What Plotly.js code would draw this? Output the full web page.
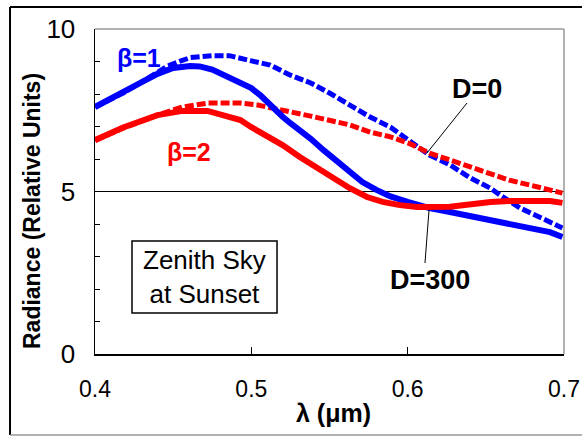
<!DOCTYPE html>
<html>
<head>
<meta charset="utf-8">
<script src="https://cdn.plot.ly/plotly-3.0.1.min.js"></script>
<style>
html,body{margin:0;padding:0;background:#fff;}
#chart{width:582px;height:437px;}
</style>
</head>
<body>
<div id="chart"></div>
<script>
// Wavelength (µm) and radiance (relative units)
const lamD0b1 = [0.400,0.418,0.429,0.446,0.455,0.461,0.475,0.486,0.500,0.512,0.525,0.538,0.550,0.563,0.576,0.589,0.601,0.614,0.627,0.640,0.653,0.659,0.672,0.685,0.699];
const radD0b1 = [7.60,8.03,8.34,8.85,9.02,9.12,9.18,9.18,9.02,8.89,8.58,8.34,8.03,7.66,7.29,6.98,6.55,6.12,5.82,5.42,5.10,4.89,4.49,4.18,3.88];

const lamD0b2 = [0.400,0.418,0.440,0.456,0.472,0.493,0.504,0.512,0.525,0.538,0.550,0.563,0.576,0.589,0.601,0.614,0.627,0.640,0.653,0.665,0.678,0.699];
const radD0b2 = [6.58,6.95,7.35,7.60,7.72,7.72,7.66,7.57,7.45,7.32,7.20,7.05,6.83,6.68,6.48,6.18,5.97,5.75,5.57,5.35,5.20,4.95];

const lamD300b1 = [0.400,0.418,0.429,0.440,0.450,0.461,0.467,0.475,0.482,0.493,0.500,0.506,0.512,0.520,0.525,0.531,0.538,0.546,0.555,0.563,0.571,0.580,0.589,0.600,0.614,0.627,0.640,0.653,0.665,0.678,0.691,0.699];
const radD300b1 = [7.60,8.03,8.34,8.62,8.80,8.86,8.85,8.75,8.60,8.37,8.18,7.95,7.66,7.30,7.10,6.90,6.62,6.28,5.92,5.57,5.29,5.05,4.85,4.68,4.49,4.37,4.25,4.12,4.03,3.91,3.75,3.60];

const lamD300b2 = [0.400,0.418,0.440,0.456,0.472,0.482,0.493,0.500,0.507,0.520,0.531,0.542,0.552,0.563,0.574,0.584,0.595,0.606,0.627,0.640,0.653,0.665,0.678,0.691,0.699];
const radD300b2 = [6.58,6.97,7.35,7.48,7.48,7.35,7.20,6.98,6.80,6.43,6.06,5.72,5.42,5.10,4.83,4.68,4.58,4.52,4.53,4.62,4.68,4.71,4.71,4.71,4.65];

const yTickVals = [0,1,2,3,4,5,6,7,8,9,10];
const yTickText = ["0","","","","","5","","","","","10"];
const xTickVals = [0.4,0.5,0.6,0.7];
const xTickText = ["0.4","0.5","0.6","0.7"];

const BLUE = "#0000FF", RED = "#FF0000";
const FONT = "Liberation Sans, Arial, sans-serif";

const traces = [
  {x: lamD0b1, y: radD0b1, mode: "lines", line: {color: BLUE, width: 5, dash: "9px,3px"}, name: "β=1, D=0"},
  {x: lamD0b2, y: radD0b2, mode: "lines", line: {color: RED, width: 5, dash: "9px,3px"}, name: "β=2, D=0"},
  {x: lamD300b1, y: radD300b1, mode: "lines", line: {color: BLUE, width: 6}, name: "β=1, D=300"},
  {x: lamD300b2, y: radD300b2, mode: "lines", line: {color: RED, width: 6}, name: "β=2, D=300"}
];

function ann(x, y, text, size, color, extra) {
  return Object.assign({xref: "paper", yref: "paper", x: x, y: y, text: text, showarrow: false,
    xanchor: "center", yanchor: "middle", font: {size: size, color: color, family: FONT}}, extra || {});
}

const layout = {
  width: 582, height: 437,
  margin: {l: 95, r: 18, t: 29, b: 83},
  paper_bgcolor: "#fff", plot_bgcolor: "#fff",
  showlegend: false,
  font: {family: FONT, color: "#000"},
  xaxis: {
    range: [0.4, 0.7], tickvals: xTickVals, ticktext: xTickText,
    ticks: "inside", ticklen: 7, tickcolor: "#000", tickwidth: 1,
    showgrid: false, zeroline: false, showline: true, linecolor: "#000", linewidth: 1.5,
    tickfont: {size: 23, family: FONT, color: "#000"}, ticklabelstandoff: 14
  },
  yaxis: {
    range: [0, 10], tickvals: yTickVals, ticktext: yTickText,
    ticks: "inside", ticklen: 5, tickcolor: "#000", tickwidth: 1,
    showgrid: false, zeroline: false, showline: true, linecolor: "#000", linewidth: 1.5,
    tickfont: {size: 26, family: FONT, color: "#000"}, ticklabelstandoff: 13
  },
  shapes: [
    {type: "line", xref: "paper", yref: "paper", x0: -0.1812, x1: 1.05, y0: 1.0677, y1: 1.0677, line: {color: "#000", width: 2}},
    {type: "line", xref: "paper", yref: "paper", x0: -0.1812, x1: -0.1812, y0: 1.0677, y1: -0.2492, line: {color: "#000", width: 2}},
    {type: "line", xref: "paper", yref: "paper", x0: -0.1812, x1: 1.05, y0: -0.2492, y1: -0.2492, line: {color: "#999", width: 1.5}},
    {type: "line", xref: "paper", yref: "paper", x0: 0, x1: 1, y0: 1, y1: 1, line: {color: "#999", width: 1.5}},
    {type: "line", xref: "paper", yref: "paper", x0: 1, x1: 1, y0: 0, y1: 1, line: {color: "#999", width: 1.5}},
    {type: "line", xref: "paper", yref: "y", x0: 0, x1: 1, y0: 5, y1: 5, layer: "below", line: {color: "#000", width: 1}},
    {type: "line", xref: "paper", yref: "paper", x0: 0.7932, y0: 0.7723, x1: 0.7079, y1: 0.6185, line: {color: "#000", width: 1}},
    {type: "line", xref: "paper", yref: "paper", x0: 0.7122, y0: 0.4431, x1: 0.7036, y1: 0.2800, line: {color: "#000", width: 1}},
    {type: "rect", xref: "paper", yref: "paper", x0: 0.0789, x1: 0.3881, y0: 0.1262, y1: 0.3477, line: {color: "#000", width: 1.5}, fillcolor: "#fff"}
  ],
  annotations: [
    ann(0.0938, 0.911, "<b>β=1</b>", 25, BLUE),
    ann(0.2004, 0.6215, "<b>β=2</b>", 25, RED),
    ann(0.8145, 0.8154, "<b>D=0</b>", 27, "#000"),
    ann(0.7143, 0.2277, "<b>D=300</b>", 27, "#000"),
    ann(0.2345, 0.2369, "Zenith Sky<br>at Sunset", 26, "#000"),
    ann(-0.1343, 0.44, "<b>Radiance (Relative Units)</b>", 23, "#000", {textangle: -90}),
    ann(0.5075, -0.1815, "<b>λ (μm)</b>", 25, "#000")
  ]
};

Plotly.newPlot("chart", traces, layout, {displayModeBar: false, staticPlot: true});
</script>
</body>
</html>
